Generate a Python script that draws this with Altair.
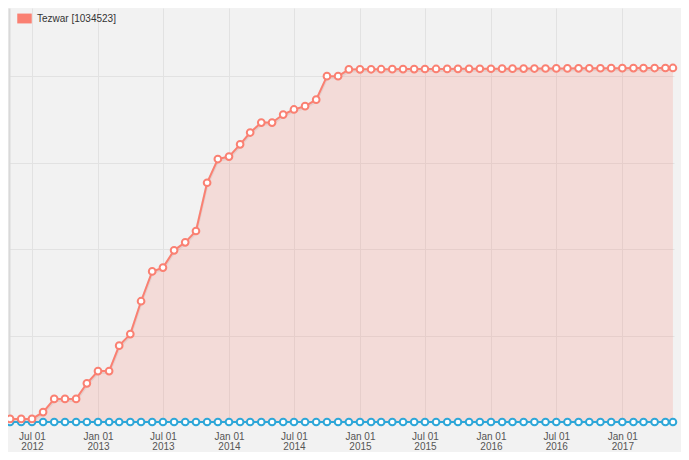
import altair as alt
import pandas as pd

dates = [
    "2012-05-01", "2012-06-01", "2012-07-01", "2012-08-01", "2012-09-01", "2012-10-01", "2012-11-01", "2012-12-01",
    "2013-01-01", "2013-02-01", "2013-03-01", "2013-04-01", "2013-05-01", "2013-06-01",
    "2013-07-01", "2013-08-01", "2013-09-01", "2013-10-01", "2013-11-01", "2013-12-01",
    "2014-01-01", "2014-02-01", "2014-03-01", "2014-04-01", "2014-05-01", "2014-06-01",
    "2014-07-01", "2014-08-01", "2014-09-01", "2014-10-01", "2014-11-01", "2014-12-01",
    "2015-01-01", "2015-02-01", "2015-03-01", "2015-04-01", "2015-05-01", "2015-06-01",
    "2015-07-01", "2015-08-01", "2015-09-01", "2015-10-01", "2015-11-01", "2015-12-01",
    "2016-01-01", "2016-02-01", "2016-03-01", "2016-04-01", "2016-05-01", "2016-06-01",
    "2016-07-01", "2016-08-01", "2016-09-01", "2016-10-01", "2016-11-01", "2016-12-01",
    "2017-01-01", "2017-02-01", "2017-03-01", "2017-04-01", "2017-05-01", "2017-05-22",
]

tezwar = [
    9000, 9000, 9000, 28600, 66700, 66700, 66700, 111900,
    147200, 147200, 220800, 254200, 349200, 435300,
    446400, 496400, 519400, 552200, 691700, 760300,
    767500, 802800, 836900, 865800, 865800, 888900,
    903600, 913100, 931900, 1000000, 1000000, 1019400,
    1019600, 1019800, 1020000, 1020100, 1020300, 1020400,
    1020600, 1020700, 1020900, 1021000, 1021100, 1021300,
    1021400, 1021600, 1021700, 1021900, 1022000, 1022100,
    1022300, 1022400, 1022600, 1022700, 1022800, 1023000,
    1023100, 1023200, 1023300, 1023400, 1023500, 1023600,
]

other = [
    0, 0, 0, 0, 0, 0, 0, 0,
    0, 0, 0, 0, 0, 0,
    0, 0, 0, 0, 0, 0,
    0, 0, 0, 0, 0, 0,
    0, 0, 0, 0, 0, 0,
    0, 0, 0, 0, 0, 0,
    0, 0, 0, 0, 0, 0,
    0, 0, 0, 0, 0, 0,
    0, 0, 0, 0, 0, 0,
    0, 0, 0, 0, 0, 0,
]

legend_label = "Tezwar [1034523]"
tick_dates = [
    "2012-07-01", "2013-01-01", "2013-07-01", "2014-01-01", "2014-07-01",
    "2015-01-01", "2015-07-01", "2016-01-01", "2016-07-01", "2017-01-01",
]
y_ticks = [0, 250000, 500000, 750000, 1000000]
x_domain = ["2012-04-28", "2017-05-25"]
y_domain = [0, 1197000]

RED = "#fa8072"
BLUE = "#2ea7d8"


def ms(s):
    return int(pd.Timestamp(s, tz="UTC").value // 10**6)


df = pd.DataFrame({"date": dates, "tezwar": tezwar, "other": other})
df["series"] = legend_label

x_enc = alt.X(
    "date:T",
    scale=alt.Scale(type="utc", domain=[ms(d) for d in x_domain]),
    axis=alt.Axis(
        values=[ms(d) for d in tick_dates],
        labelExpr="[utcFormat(datum.value, '%b %d'), utcFormat(datum.value, '%Y')]",
        title=None,
        grid=True,
        gridColor="#e2e2e2",
        domain=False,
        ticks=False,
        labelFont="Liberation Sans",
        labelFontSize=10,
        labelColor="#555555",
        labelPadding=9,
        labelLineHeight=10,
        labelFlush=False,
        labelOverlap=False,
    ),
)

y_scale = alt.Scale(domain=y_domain, nice=False, zero=True)
y_axis = alt.Axis(
    values=y_ticks,
    labels=False,
    ticks=False,
    title=None,
    grid=True,
    gridColor="#e2e2e2",
    domain=True,
    domainColor="#d9d9d9",
    domainWidth=2,
    minExtent=0,
    maxExtent=0,
)

base = alt.Chart(df)

area = base.mark_area(fillOpacity=0.2, interpolate="linear").encode(
    x=x_enc,
    y=alt.Y("tezwar:Q", scale=y_scale, axis=y_axis),
    color=alt.Color(
        "series:N",
        scale=alt.Scale(domain=[legend_label], range=[RED]),
        legend=alt.Legend(
            title=None,
            orient="none",
            legendX=8,
            legendY=3,
            padding=0,
            symbolType="M-1,-0.68L1,-0.68L1,0.68L-1,0.68Z",
            symbolSize=210,
            symbolOpacity=1,
            symbolStrokeWidth=0,
            labelFont="Liberation Sans",
            labelFontSize=10,
            labelColor="#333333",
            labelOffset=5,
        ),
    ),
)

shadow = base.mark_line(color="#000000", opacity=0.06, strokeWidth=3, yOffset=1.5).encode(
    x=x_enc, y=alt.Y("tezwar:Q", scale=y_scale, axis=y_axis)
)

red_line = base.mark_line(color=RED, strokeWidth=2).encode(
    x=x_enc, y=alt.Y("tezwar:Q", scale=y_scale, axis=y_axis)
)
red_pts = base.mark_point(filled=True, fill="white", stroke=RED, strokeWidth=2, size=45, opacity=1).encode(
    x=x_enc, y=alt.Y("tezwar:Q", scale=y_scale, axis=y_axis)
)
blue_line = base.mark_line(color=BLUE, strokeWidth=2).encode(
    x=x_enc, y=alt.Y("other:Q", scale=y_scale, axis=y_axis)
)
blue_pts = base.mark_point(filled=True, fill="white", stroke=BLUE, strokeWidth=2, size=45, opacity=1).encode(
    x=x_enc, y=alt.Y("other:Q", scale=y_scale, axis=y_axis)
)

chart = (
    alt.layer(area, shadow, blue_line, red_line, blue_pts, red_pts)
    .properties(
        width=665,
        height=414,
        background="#f2f2f2",
        autosize=alt.AutoSizeParams(type="none"),
        padding={"left": 1, "top": 0, "right": 7, "bottom": 30},
    )
    .configure_view(stroke=None)
)

chart.save("out.html", embed_options={"renderer": "svg", "actions": False})
